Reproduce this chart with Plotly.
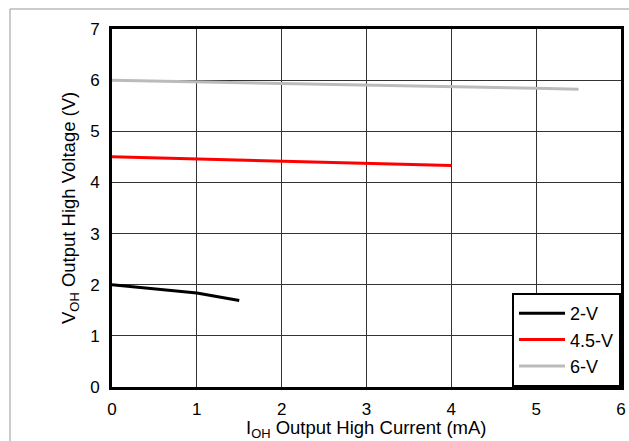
import plotly.graph_objects as go

# Data
i_2v = [0, 1.0, 1.5]
v_2v = [2.0, 1.84, 1.69]
i_45v = [0, 1, 2, 3, 4]
v_45v = [4.50, 4.46, 4.42, 4.37, 4.33]
i_6v = [0, 1, 2, 3, 4, 5, 5.5]
v_6v = [6.00, 5.97, 5.94, 5.91, 5.88, 5.84, 5.82]

x_ticks = [0, 1, 2, 3, 4, 5, 6]
y_ticks = [0, 1, 2, 3, 4, 5, 6, 7]

x_title = "I<sub>OH</sub> Output High Current (mA)"
y_title = "V<sub>OH</sub> Output High Voltage (V)"

font = "Liberation Sans, Arial, Helvetica, sans-serif"

fig = go.Figure()
fig.add_trace(go.Scatter(x=i_2v, y=v_2v, mode="lines", name="2-V",
                         line=dict(color="black", width=3)))
fig.add_trace(go.Scatter(x=i_45v, y=v_45v, mode="lines", name="4.5-V",
                         line=dict(color="#ff0000", width=3)))
fig.add_trace(go.Scatter(x=i_6v, y=v_6v, mode="lines", name="6-V",
                         line=dict(color="#bbbbbb", width=3)))

fig.update_layout(
    width=629, height=441,
    margin=dict(l=112, r=8, t=29, b=54),
    paper_bgcolor="white", plot_bgcolor="white",
    font=dict(family=font, size=17, color="black"),
    showlegend=True,
    legend=dict(x=1, xanchor="right", y=0, yanchor="bottom",
                bgcolor="white", bordercolor="black", borderwidth=2,
                font=dict(size=18), tracegroupgap=0, itemwidth=46),
    shapes=[dict(type="rect", xref="paper", yref="paper",
                 x0=-0.2004, x1=1.1, y0=-0.3, y1=1.0559,
                 line=dict(color="#999999", width=1), layer="below")],
    annotations=[
        dict(text=x_title, xref="paper", yref="paper", x=0.499, y=-0.118,
             xanchor="center", yanchor="middle", showarrow=False,
             font=dict(size=18.5)),
        dict(text=y_title, xref="paper", yref="paper", x=-0.0825, y=0.5,
             xanchor="center", yanchor="middle", showarrow=False,
             textangle=-90, font=dict(size=18.5)),
    ],
)
fig.update_xaxes(range=[0, 6], tickvals=x_ticks, showgrid=True,
                 gridcolor="#333333", gridwidth=1, automargin=False,
                 showline=True, linecolor="black", linewidth=3, mirror=True,
                 ticks="outside", ticklen=5, tickcolor="rgba(0,0,0,0)",
                 ticklabeloverflow="allow", zeroline=False)
fig.update_yaxes(range=[0, 7], tickvals=y_ticks, showgrid=True,
                 gridcolor="#333333", gridwidth=1, automargin=False,
                 showline=True, linecolor="black", linewidth=3, mirror=True,
                 ticks="outside", ticklen=6, tickcolor="rgba(0,0,0,0)",
                 zeroline=False)

fig.write_html("out.html",
               config={"displayModeBar": False},
               post_script="document.body.style.margin='0';"
                           "document.body.style.overflow='hidden';")
